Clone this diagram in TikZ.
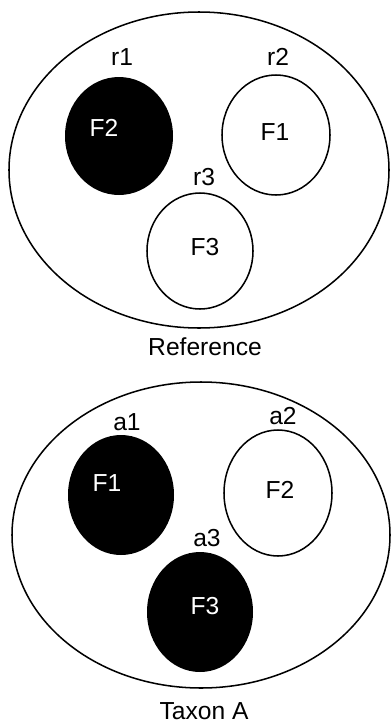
\documentclass[tikz,border=0pt]{standalone}
\usepackage{fontspec}
\setmainfont{Liberation Sans}
\usepackage{tikz}
\usetikzlibrary{calc}

\begin{document}
\begin{tikzpicture}[x=0.03cm,y=-0.03cm,
            outline/.style={line width=1.3pt},
            lbl/.style={font=\fontsize{21}{21}\selectfont,inner sep=0pt},
            inlbl/.style={lbl,text=white}]
            \useasboundingbox (0,0) rectangle (390,726);
            \draw[outline] (199,170) ellipse (190 and 158);
            \fill (119,136) ellipse (54 and 59);
            \draw[outline] (276,135) ellipse (54 and 60);
            \draw[outline] (200,251) ellipse (53 and 58);
            \node[inlbl] (rF2) at (104,128) {F2};
            \node[lbl] (rF1) at (275,132) {F1};
            \node[lbl] (rF3) at (205,247) {F3};
            \node[lbl] (r1) at (122,57) {r1};
            \node[lbl] (r2) at (278,57) {r2};
            \node[lbl] (r3) at (204,177) {r3};
            \node[lbl] (ref) at (205,347) {Reference};
            \draw[outline] (201,535) ellipse (189 and 153);
            \fill (121,495) ellipse (53 and 60);
            \draw[outline] (278,493) ellipse (54 and 63);
            \fill (200,612) ellipse (53 and 60);
            \node[inlbl] (aF1) at (107,483) {F1};
            \node[lbl] (aF2) at (280,490) {F2};
            \node[inlbl] (aF3) at (205,606) {F3};
            \node[lbl] (a1) at (127,422) {a1};
            \node[lbl] (a2) at (283,416) {a2};
            \node[lbl] (a3) at (207,538) {a3};
            \node[lbl] (taxa) at (204,711) {Taxon A};
        \end{tikzpicture}
\end{document}
